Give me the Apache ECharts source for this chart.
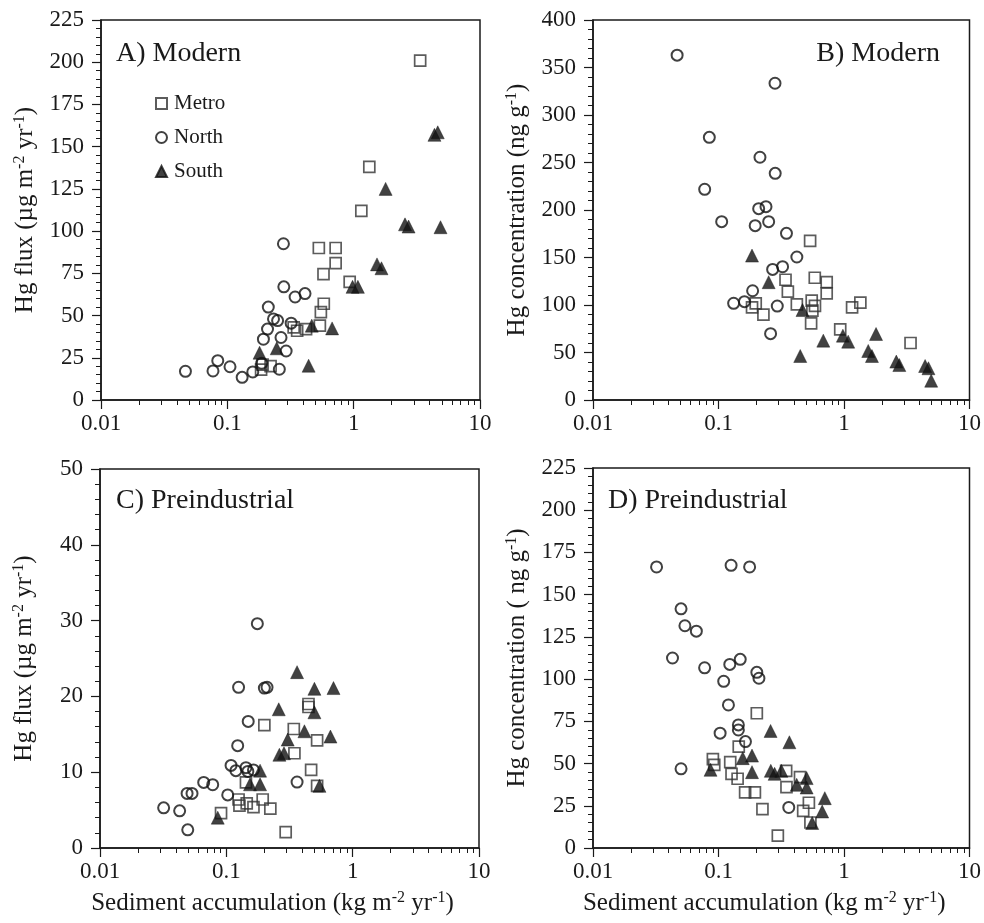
<!DOCTYPE html>
<html>
<head>
<meta charset="utf-8">
<script src="https://cdn.jsdelivr.net/npm/echarts@6/dist/echarts.min.js"></script>
<style>
  html, body { margin: 0; padding: 0; background: #fff; }
  #chart { width: 984px; height: 923px; }
</style>
</head>
<body>
<div id="chart"></div>
<script>
// values: [sediment accumulation, Hg]
var aMetro = [[3.36,201],[1.33,138],[1.15,112],[0.53,90],[0.72,90],[0.72,81],[0.577,74.5],[0.93,70],[0.58,57],[0.55,52],[0.54,44],[0.335,43],[0.357,41],[0.42,42],[0.185,18],[0.22,20],[0.19,21]];
var aNorth = [[0.278,92.5],[0.28,67],[0.344,61],[0.412,63],[0.211,55],[0.232,48],[0.25,47],[0.208,42],[0.32,45.5],[0.193,36],[0.266,37],[0.292,29],[0.187,21.7],[0.258,18.2],[0.159,16.6],[0.131,13.4],[0.105,19.7],[0.084,23.3],[0.077,17.2],[0.0466,17]];
var aSouth = [[4.36,157],[4.63,158.5],[1.79,125],[2.55,104],[2.72,102.7],[4.87,102.3],[1.53,80.3],[1.66,78],[0.98,67],[1.08,67],[0.466,44],[0.675,42.4],[0.18,28],[0.246,30.6],[0.44,20.3]];

var bMetro = [[0.537,167.4],[0.342,126.6],[0.585,128.7],[0.728,124],[0.728,112.3],[0.357,114],[0.198,101.8],[0.185,97.6],[0.228,89.8],[0.421,100.7],[0.553,104.6],[0.587,99],[0.56,94],[0.547,80.7],[1.16,97.6],[1.35,102.4],[0.933,74.4],[3.39,60]];
var bNorth = [[0.0468,363],[0.282,333.4],[0.0845,276.5],[0.214,255.5],[0.283,238.6],[0.0776,221.8],[0.209,201.4],[0.239,203.5],[0.106,187.7],[0.196,183.5],[0.251,187.7],[0.348,175.4],[0.421,150.5],[0.27,137.5],[0.324,140.3],[0.187,115],[0.132,101.8],[0.161,103.5],[0.294,98.9],[0.26,69.8]];
var bSouth = [[0.185,152],[0.251,124],[0.467,94.7],[0.684,62.5],[0.448,46.3],[0.98,67.7],[1.08,61.4],[1.8,69.5],[1.56,51.6],[1.67,46.3],[2.61,40.4],[2.76,36.8],[4.43,35.8],[4.71,33.4],[4.95,20.3]];

var cMetro = [[0.447,19],[0.447,18.6],[0.2,16.2],[0.342,15.7],[0.523,14.2],[0.346,12.5],[0.469,10.3],[0.523,8.2],[0.143,8.65],[0.125,6.4],[0.127,5.6],[0.145,5.9],[0.164,5.4],[0.194,6.4],[0.223,5.2],[0.0908,4.6],[0.295,2.1]];
var cNorth = [[0.176,29.6],[0.125,21.2],[0.2,21.1],[0.21,21.2],[0.149,16.7],[0.123,13.5],[0.109,10.9],[0.119,10.2],[0.143,10.6],[0.148,10.1],[0.164,10.3],[0.363,8.7],[0.0662,8.65],[0.078,8.35],[0.1026,7],[0.0489,7.2],[0.0535,7.2],[0.0319,5.3],[0.0427,4.9],[0.0495,2.4]];
var cSouth = [[0.363,23.2],[0.498,21],[0.705,21.1],[0.26,18.3],[0.498,17.9],[0.415,15.4],[0.667,14.7],[0.306,14.3],[0.263,12.3],[0.286,12.5],[0.185,10.2],[0.154,8.4],[0.185,8.4],[0.546,8.2],[0.0855,4.0]];

var dMetro = [[0.202,79.8],[0.145,60],[0.0902,52.6],[0.0925,49.2],[0.124,50.8],[0.127,43.9],[0.142,41],[0.163,32.9],[0.195,32.9],[0.224,23],[0.297,7.3],[0.346,45.7],[0.348,36],[0.446,42],[0.525,26.8],[0.473,22],[0.54,15.1]];
var dNorth = [[0.0321,166.4],[0.126,167.4],[0.177,166.4],[0.0503,141.6],[0.054,131.6],[0.0666,128.4],[0.043,112.5],[0.0775,106.7],[0.123,108.7],[0.149,111.7],[0.202,104],[0.21,100.5],[0.11,98.7],[0.12,84.7],[0.144,72.9],[0.144,69.9],[0.103,68],[0.164,63],[0.0503,46.9],[0.363,24]];
var dSouth = [[0.26,69.3],[0.367,62.6],[0.156,53.2],[0.185,54.7],[0.0864,46.3],[0.185,44.9],[0.261,45.7],[0.28,43.9],[0.317,45.7],[0.42,37.4],[0.504,41.4],[0.504,35.8],[0.703,29.5],[0.67,21.6],[0.558,14.8]];

var minorLogTicks = [0.02,0.03,0.04,0.05,0.06,0.07,0.08,0.09,0.2,0.3,0.4,0.5,0.6,0.7,0.8,0.9,2,3,4,5,6,7,8,9];
var yMax = [225, 400, 50, 225];
var yStep = [25, 50, 10, 25];
var panelTitles = ['A) Modern', 'B) Modern', 'C) Preindustrial', 'D) Preindustrial'];
var yNames = [
    'Hg flux (\u00b5g m{sup|-2} yr{sup|-1})',
    'Hg concentration (ng g{sup|-1})',
    'Hg flux (\u00b5g m{sup|-2} yr{sup|-1})',
    'Hg concentration ( ng g{sup|-1})'
];
var xName = 'Sediment accumulation (kg m{sup|-2} yr{sup|-1})';

var FONT = '"Liberation Serif", "DejaVu Serif", serif';
var INK = '#1a1a1a';

var chart = echarts.init(document.getElementById('chart'));

var grids = [
    {left: 101, top: 20, width: 379, height: 380},
    {left: 593, top: 20, width: 378, height: 380},
    {left: 100, top: 469, width: 379, height: 379},
    {left: 593, top: 468, width: 378, height: 380}
];
grids.forEach(function (g) {
    g.show = true;
    g.borderColor = INK;
    g.borderWidth = 1.5;
    g.backgroundColor = 'transparent';
});

var nameStyle = {
    fontFamily: FONT,
    fontSize: 25,
    color: INK,
    rich: {
        sup: {fontFamily: FONT, fontSize: 16, color: INK, verticalAlign: 'bottom', padding: [0, 0, 11, 0]}
    }
};

var xAxes = [];
var yAxes = [];
for (var i = 0; i < 4; i++) {
    var bottomRow = i >= 2;
    xAxes.push({
        type: 'log', logBase: 10, gridIndex: i, min: 0.01, max: 10, position: 'bottom',
        name: bottomRow ? xName : '',
        nameLocation: 'middle', nameGap: 42,
        nameTextStyle: Object.assign({}, nameStyle, {padding: [0, 34, 0, 0]}),
        axisLine: {show: true, lineStyle: {color: INK, width: 1.5}},
        axisTick: {show: true, inside: false, length: 9, lineStyle: {color: INK, width: 1.2}},
        axisLabel: {fontFamily: FONT, fontSize: 23, color: INK, margin: 12},
        splitLine: {show: false}
    });
    xAxes.push({
        type: 'log', logBase: 10, gridIndex: i, min: 0.01, max: 10, position: 'bottom',
        axisLine: {show: false},
        axisTick: {show: true, inside: false, length: 5, customValues: minorLogTicks, lineStyle: {color: INK, width: 1}},
        axisLabel: {show: false},
        splitLine: {show: false}
    });
    yAxes.push({
        type: 'value', gridIndex: i, min: 0, max: yMax[i], interval: yStep[i],
        name: yNames[i], nameLocation: 'middle', nameGap: 62,
        nameTextStyle: nameStyle,
        axisLine: {show: true, lineStyle: {color: INK, width: 1.5}},
        axisTick: {show: true, inside: false, length: 9, lineStyle: {color: INK, width: 1.2}},
        minorTick: {show: true, splitNumber: 5, length: 5, lineStyle: {color: INK, width: 1}},
        axisLabel: {fontFamily: FONT, fontSize: 23, color: INK, margin: 17},
        splitLine: {show: false},
        minorSplitLine: {show: false}
    });
}

function group(name, data, gi) {
    var base = {
        name: name, type: 'scatter', data: data,
        xAxisIndex: gi * 2, yAxisIndex: gi, z: 3
    };
    if (name === 'Metro') {
        base.symbol = 'rect';
        base.symbolSize = 11;
        base.itemStyle = {color: 'transparent', borderColor: '#333', borderWidth: 1.7};
    } else if (name === 'North') {
        base.symbol = 'circle';
        base.symbolSize = 11;
        base.itemStyle = {color: 'transparent', borderColor: '#111', borderWidth: 2};
    } else {
        base.symbol = 'triangle';
        base.symbolSize = 13;
        base.itemStyle = {color: '#111', borderColor: '#111', borderWidth: 0.5};
    }
    return base;
}

var panels = [
    [aMetro, aNorth, aSouth],
    [bMetro, bNorth, bSouth],
    [cMetro, cNorth, cSouth],
    [dMetro, dNorth, dSouth]
];
var series = [];
panels.forEach(function (p, gi) {
    series.push(group('Metro', p[0], gi));
    series.push(group('North', p[1], gi));
    series.push(group('South', p[2], gi));
});

var titleStyle = {fontFamily: FONT, fontSize: 28, fontWeight: 'normal', color: INK};

chart.setOption({
    animation: false,
    backgroundColor: '#fff',
    title: [
        {text: panelTitles[0], left: 116, top: 40, textStyle: titleStyle, padding: 0},
        {text: panelTitles[1], right: 44, top: 40, textStyle: titleStyle, padding: 0},
        {text: panelTitles[2], left: 116, top: 487, textStyle: titleStyle, padding: 0},
        {text: panelTitles[3], left: 608, top: 487, textStyle: titleStyle, padding: 0}
    ],
    legend: {
        data: ['Metro', 'North', 'South'],
        orient: 'vertical', left: 155, top: 93,
        itemWidth: 11, itemHeight: 11, itemGap: 13,
        padding: 0,
        selectedMode: false,
        textStyle: {fontFamily: FONT, fontSize: 21, color: INK, padding: [0, 0, 0, 2]}
    },
    grid: grids,
    xAxis: xAxes,
    yAxis: yAxes,
    series: series
});
</script>
</body>
</html>
